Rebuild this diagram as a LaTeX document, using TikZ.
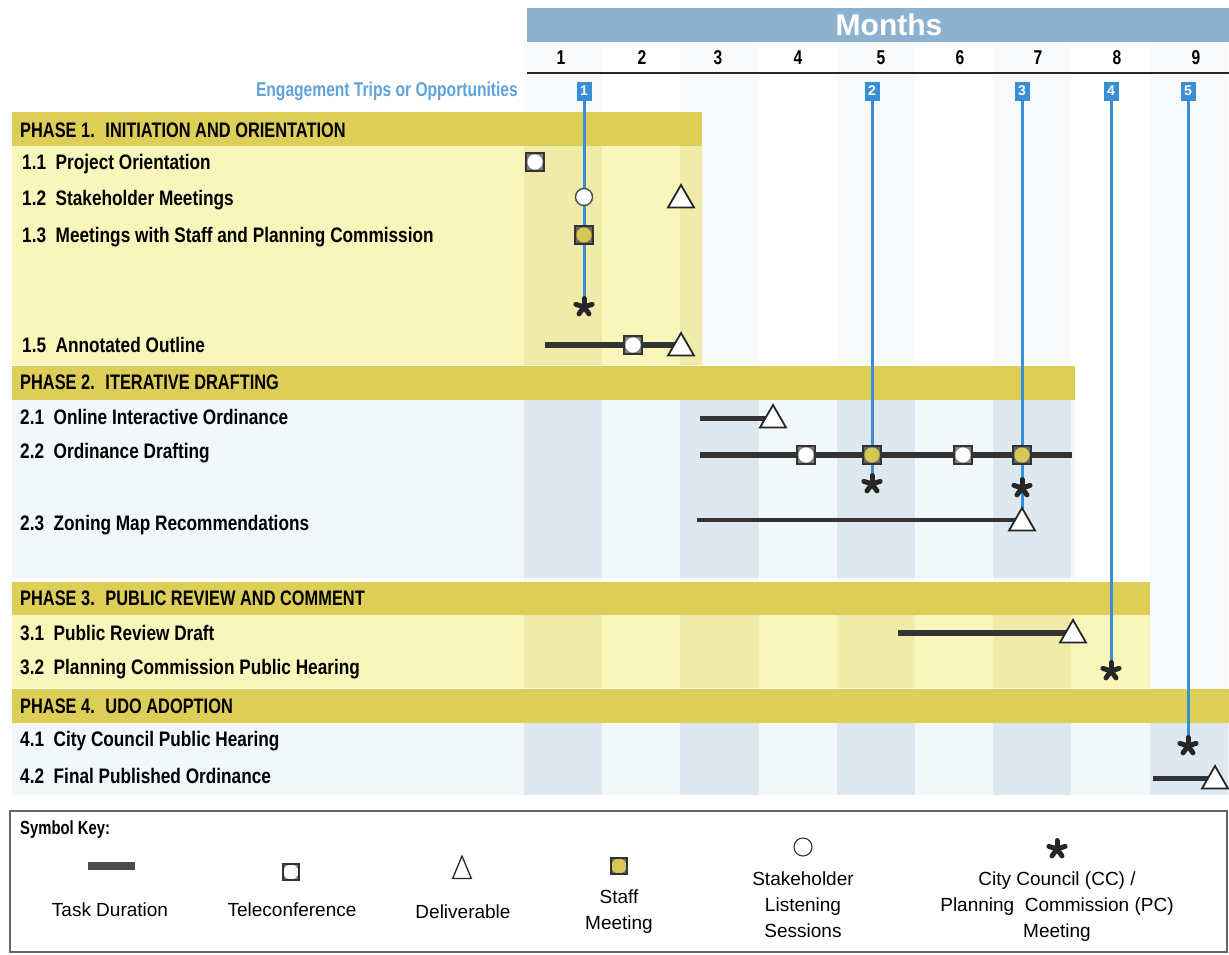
\documentclass[tikz,border=0pt]{standalone}
\usepackage{fontspec}
\setmainfont{Liberation Sans}
\newfontfamily\condfont[FakeStretch=0.78]{Liberation Sans}
\newfontfamily\taskfont[FakeStretch=0.82]{Liberation Sans}
\usetikzlibrary{shapes.geometric}
\definecolor{monthblue}{RGB}{140,178,207}
\definecolor{phasegold}{RGB}{221,206,88}
\definecolor{paleyellow}{RGB}{249,246,188}
\definecolor{stripeyellow}{RGB}{240,235,168}
\definecolor{paleblue}{RGB}{242,247,250}
\definecolor{stripeblue}{RGB}{222,233,239}
\definecolor{colfaint}{RGB}{248,250,251}
\definecolor{engageblue}{RGB}{58,142,214}
\definecolor{tripblue}{RGB}{96,163,218}
\definecolor{staffyellow}{RGB}{214,200,84}
\pgfdeclarelayer{bg}
\pgfdeclarelayer{lines}
\pgfsetlayers{bg,lines,main}
\tikzset{
  task/.style={anchor=west,inner sep=0pt,font=\taskfont\bfseries\fontsize{21}{24}\selectfont},
  phase/.style={anchor=west,inner sep=0pt,font=\condfont\bfseries\fontsize{21}{24}\selectfont},
  monthnum/.style={inner sep=0pt,font=\condfont\bfseries\fontsize{20}{20}\selectfont},
  bar/.style={line width=6pt,draw=black!80},
  engage/.style={line width=3pt,draw=engageblue},
  tripmark/.style={fill=engageblue,text=white,inner sep=0pt,minimum width=15pt,minimum height=19pt,font=\bfseries\fontsize{14}{14}\selectfont},
  telecon/.style={rectangle,draw=black!80,line width=1.4pt,fill=black!50,minimum size=18pt,inner sep=0pt,
    path picture={\fill[white] (path picture bounding box.center) circle (7.6pt);}},
  staffmtg/.style={rectangle,draw=black!80,line width=1.4pt,fill=black!60,minimum size=18pt,inner sep=0pt,
    path picture={\fill[staffyellow] (path picture bounding box.center) circle (7.6pt);}},
  listen/.style={circle,draw=black!70,line width=1.4pt,fill=white,minimum size=17pt,inner sep=0pt},
  deliv/.style={regular polygon,regular polygon sides=3,draw=black!85,line width=1.8pt,fill=white,minimum size=30pt,inner sep=0pt},
  council/.style={circle,minimum size=28pt,inner sep=0pt,
    path picture={\foreach \a in {90,18,162,234,306}
      \draw[line width=5pt,line cap=round,black!85] (path picture bounding box.center) -- ++(\a:8.5pt);}},
  keytext/.style={align=center,font=\fontsize{19}{26}\selectfont}
}

\begin{document}
\begin{tikzpicture}[x=1pt,y=-1pt]
        \useasboundingbox (0,0) rectangle (1229,954);
        % Backgrounds
        \begin{pgfonlayer}{bg}
        \foreach \c in {1,3,5,7,9}
            \fill[colfaint]({524+78.2*(\c-1)},42) rectangle +(78.2,753);
        \fill[paleyellow](12,146) rectangle (702,365);
        \fill[paleblue](12,400) rectangle (1075,578);
        \fill[paleyellow](12,615) rectangle (1150,688);
        \fill[paleblue](12,723) rectangle (1229,795);
        \begin{scope}
            \clip (12,146) rectangle (702,365) (12,615) rectangle (1150,688);
            \foreach \c in {1,3,5,7}
                \fill[stripeyellow]({524+78.2*(\c-1)},146) rectangle +(78.2,542);
        \end{scope}
        \begin{scope}
            \clip (12,400) rectangle (1075,578) (12,723) rectangle (1229,795);
            \foreach \c in {1,3,5,7,9}
                \fill[stripeblue]({524+78.2*(\c-1)},400) rectangle +(78.2,395);
        \end{scope}
        % Phase bars
        \fill[phasegold](12,112) rectangle (702,146);
        \fill[phasegold](12,366) rectangle (1075,400);
        \fill[phasegold](12,582) rectangle (1150,615);
        \fill[phasegold](12,689) rectangle (1229,723);
        % Months header
        \fill[monthblue](527,8) rectangle (1229,42);
        \end{pgfonlayer}
        \node[text=white,font=\bfseries\fontsize{30}{30}\selectfont] (months) at (889,25) {Months};
        \draw[black!85,line width=2.5pt](527,73)--(1229,73);
        \foreach \n/\x in {1/561,2/642,3/718,4/798,5/881,6/960,7/1038,8/1117,9/1196}
            \node[monthnum] (mn\n) at (\x,58) {\n};
        % Phase and task labels
        \node[phase,text=tripblue,anchor=east,font=\condfont\bfseries\fontsize{20}{22}\selectfont] (trips) at (518,91) {Engagement Trips or Opportunities};
        \node[phase] (p1) at (20,130) {PHASE 1.~ INITIATION AND ORIENTATION};
        \node[task] (t11) at (22,164) {1.1~ Project Orientation};
        \node[task] (t12) at (22,200) {1.2~ Stakeholder Meetings};
        \node[task] (t13) at (22,237) {1.3~ Meetings with Staff and Planning Commission};
        \node[task] (t15) at (22,345) {1.5~ Annotated Outline};
        \node[phase] (p2) at (20,382) {PHASE 2.~ ITERATIVE DRAFTING};
        \node[task] (t21) at (20,417) {2.1~ Online Interactive Ordinance};
        \node[task] (t22) at (20,453) {2.2~ Ordinance Drafting};
        \node[task] (t23) at (20,525) {2.3~ Zoning Map Recommendations};
        \node[phase] (p3) at (20,598) {PHASE 3.~ PUBLIC REVIEW AND COMMENT};
        \node[task] (t31) at (20,633) {3.1~ Public Review Draft};
        \node[task] (t32) at (20,669) {3.2~ Planning Commission Public Hearing};
        \node[phase] (p4) at (20,706) {PHASE 4.~ UDO ADOPTION};
        \node[task] (t41) at (20,741) {4.1~ City Council Public Hearing};
        \node[task] (t42) at (20,776) {4.2~ Final Published Ordinance};
        % Engagement trip markers
        \foreach \n/\x in {1/584,2/872,3/1022,4/1111,5/1188}
            \node[tripmark] (m\n) at (\x,91) {\n};
        % Phase 1 symbols
        \node[telecon] (tc11) at (535,162) {};
        \node[listen] (sh12) at (584,197) {};
        \node[deliv] (dl12) at (681,200) {};
        \node[staffmtg] (sm13) at (584,235) {};
        \node[council] (cc14) at (584,307) {};
        \coordinate (s15) at (545,345);
        \node[telecon] (tc15) at (633,345) {};
        \node[deliv] (dl15) at (681,348) {};
        % Phase 2 symbols
        \coordinate (s21) at (700,418);
        \node[deliv] (dl21) at (773,420) {};
        \coordinate (s22) at (700,455);
        \coordinate (e22) at (1072,455);
        \node[telecon] (tc22a) at (806,455) {};
        \node[staffmtg] (sm22a) at (872,455) {};
        \node[telecon] (tc22b) at (963,455) {};
        \node[staffmtg] (sm22b) at (1022,455) {};
        \node[council] (cc22a) at (872,484) {};
        \node[council] (cc22b) at (1022,488) {};
        \coordinate (s23) at (697,520);
        \node[deliv] (dl23) at (1022,523) {};
        % Phase 3 symbols
        \coordinate (s31) at (898,633);
        \node[deliv] (dl31) at (1073,635) {};
        \node[council] (cc32) at (1111,671) {};
        % Phase 4 symbols
        \node[council] (cc41) at (1188,746) {};
        \coordinate (s42) at (1153,778);
        \node[deliv] (dl42) at (1215,781) {};
        % Task durations and trip lines
        \begin{pgfonlayer}{lines}
        \draw[bar](s15)--(s15-|dl15);
        \draw[bar,line width=5pt](s21)--(s21-|dl21);
        \draw[bar](s22)--(e22);
        \draw[bar,line width=4pt](s23)--(s23-|dl23);
        \draw[bar](s31)--(s31-|dl31);
        \draw[bar,line width=5pt](s42)--(s42-|dl42);
        \draw[engage](m1)--(cc14.center);
        \draw[engage](m2)--(cc22a.center);
        \draw[engage](m3)--(dl23.center);
        \draw[engage](m4)--(cc32.center);
        \draw[engage](m5)--(cc41.center);
        \end{pgfonlayer}
        % Symbol key
        \draw[black!60,line width=1.5pt](10,811) rectangle (1227,952);
        \node[phase,font=\condfont\bfseries\fontsize{19}{22}\selectfont] (keyhead) at (20,830) {Symbol Key:};
        \coordinate (kb1) at (88,866);
        \coordinate (kb2) at (135,866);
        \draw[bar,line width=8pt,draw=black!70](kb1)--(kb2);
        \node[telecon,minimum size=16pt] (ktc) at (291,872) {};
        \node[deliv,xscale=0.72,transform shape,line width=1.3pt] (kdl) at (462,871) {};
        \node[staffmtg,minimum size=16pt] (ksm) at (619,866) {};
        \node[listen,minimum size=18pt,line width=1.1pt,draw=black!80] (ksh) at (803,847) {};
        \node[council] (kcc) at (1057,849) {};
        \node[keytext] (k1) at (110,910) {Task Duration};
        \node[keytext] (k2) at (292,910) {Teleconference};
        \node[keytext] (k3) at (463,912) {Deliverable};
        \node[keytext] (k4) at (619,912) {Staff\\Meeting};
        \node[keytext] (k5) at (803,905) {Stakeholder\\Listening\\Sessions};
        \node[keytext] (k6) at (1057,907) {City Council (CC) /\\Planning~ Commission (PC)\\Meeting};
\end{tikzpicture}
\end{document}
